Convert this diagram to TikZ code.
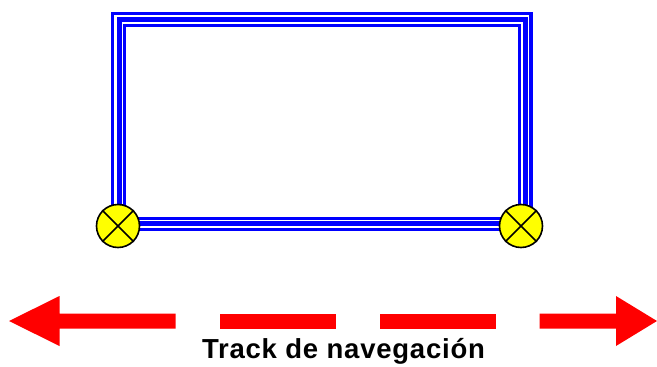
\documentclass[tikz,border=0pt]{standalone}
\usepackage{fontspec}
\setmainfont{Liberation Sans}
\usetikzlibrary{backgrounds,calc}
\definecolor{railblue}{RGB}{0,0,255}
\definecolor{lampyellow}{RGB}{255,255,0}
\definecolor{barred}{RGB}{255,0,0}
\tikzset{
  x=1pt,y=-1pt,
  lamp/.style={circle,draw=black,line width=1.6pt,fill=lampyellow,minimum size=43pt,inner sep=0pt},
  rail/.style={draw=railblue,line join=miter},
  redbar/.style={fill=barred,draw=none},
  lbl/.style={font=\bfseries\fontsize{27.5}{32}\selectfont\addfontfeatures{LetterSpace=2.8},inner sep=0pt,anchor=base}
}
\begin{document}
\begin{tikzpicture}
\useasboundingbox (0,0) rectangle (657,367);
\node[lamp] (la) at (118,226) {};
\node[lamp] (lb) at (521,226) {};
\draw[line width=1.6pt] (la.45)--(la.225) (la.135)--(la.315);
\draw[line width=1.6pt] (lb.45)--(lb.225) (lb.135)--(lb.315);
\begin{scope}[on background layer]
\draw[rail,line width=3.4pt] (112.4,226) -- (112.4,13.5) -- (531.1,13.5) -- (531.1,226);
\draw[rail,line width=5pt] (119.3,226) -- (119.3,19.4) -- (525.6,19.4) -- (525.6,226);
\draw[rail,line width=3pt] (124.7,226) -- (124.7,25.2) -- (519,25.2) -- (519,226);
\draw[rail,line width=3.6pt] (la.center |- 0,218.6) -- (lb.center |- 0,218.6);
\draw[rail,line width=5pt] (la.center |- 0,223.8) -- (lb.center |- 0,223.8);
\draw[rail,line width=3pt] (la.center |- 0,229) -- (lb.center |- 0,229);
\end{scope}
\path[redbar] (9,321) -- (59.5,296) -- (59.5,313.5) -- (175.5,313.5) -- (175.5,328.5) -- (59.5,328.5) -- (59.5,346) -- cycle;
\path[redbar] (219.5,313.5) rectangle (335.5,328.5);
\path[redbar] (379.5,313.5) rectangle (496,328.5);
\path[redbar] (539.5,313.5) -- (616,313.5) -- (616,296) -- (657,321) -- (616,346) -- (616,328.5) -- (539.5,328.5) -- cycle;
\node[lbl] (cap) at (343.5,358.5) {Track de navegación};
\end{tikzpicture}
\end{document}
